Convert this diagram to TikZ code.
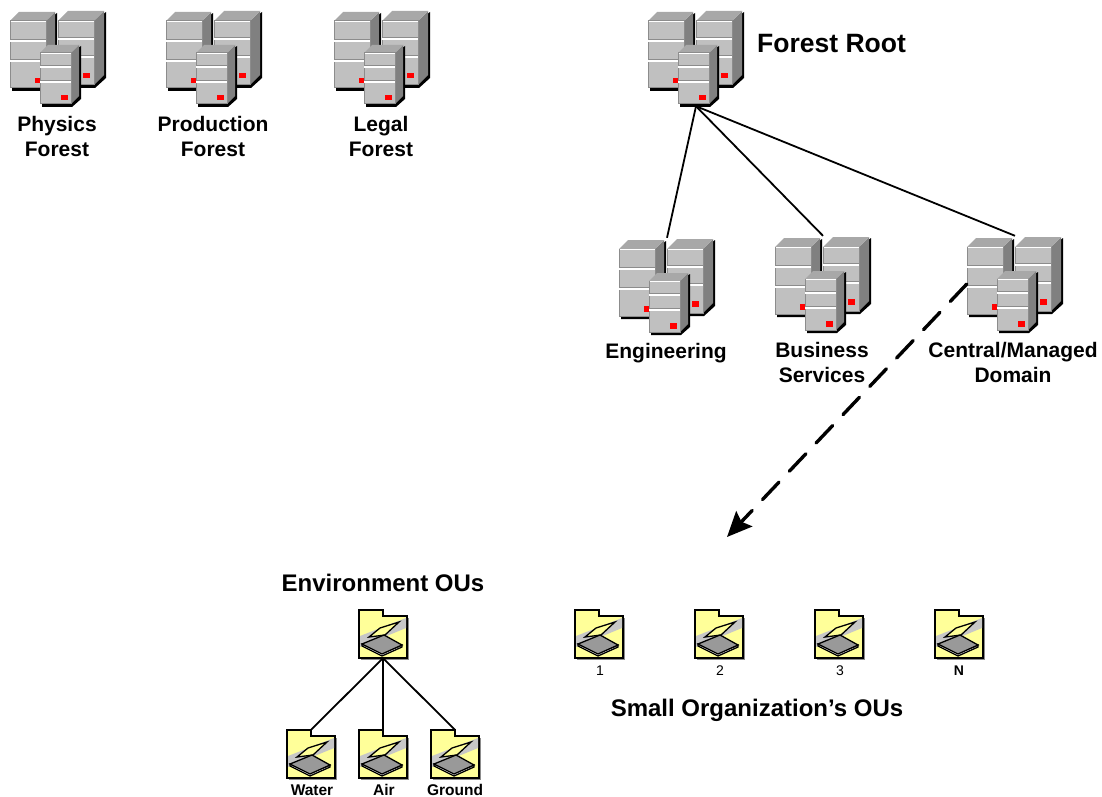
\documentclass[tikz,border=0pt]{standalone}
\usepackage{xcolor}
\usepackage{fontspec}
\setmainfont{Liberation Sans}
\usetikzlibrary{arrows.meta}

\definecolor{towerfront}{HTML}{C0C0C0}
\definecolor{towerside}{HTML}{808080}
\definecolor{towertop}{HTML}{A8A8A8}
\definecolor{towerline}{HTML}{8C8C8C}
\definecolor{folderfill}{HTML}{FFFF99}
\definecolor{scannerbase}{HTML}{999999}

\tikzset{
	groupbox/.style = {minimum width = 96pt, minimum height = 96pt, inner sep = 0},
	folderbox/.style = {minimum width = 48pt, minimum height = 48pt, inner sep = 0},
	biglabel/.style = {font = \bfseries\fontsize{24}{25}\selectfont, inner sep = 0},
	grouplabel/.style = {font = \bfseries\fontsize{21}{25}\selectfont, align = center, inner sep = 0},
	smalllabel/.style = {font = \bfseries\fontsize{15.5}{16}\selectfont, inner sep = 0},
	numberlabel/.style = {font = \fontsize{14}{15}\selectfont, inner sep = 0},
	trustline/.style = {black, line width = 1.8pt},
	movelink/.style = {black, line width = 3.4pt, line cap = round, dash pattern = on 24pt off 15pt, -{Stealth[length = 25pt, width = 22pt, inset = 4pt]}}
}

\newcommand{\servertower}[9]{
	\begin{scope}[shift = {(#1,#2)}]
		\fill[black] (2,#4) -- (2,#4+3) -- (#3+1,#4+3) -- (#3+#5+2,#4+3-#5) -- (#3+#5+2,1-#5) -- (#3,0) -- cycle;
		\fill[towerside] (#3,0) -- (#3+#5,-#5) -- (#3+#5,#4-#5) -- (#3,#4) -- cycle;
		\fill[towertop] (0,0) -- (#5,-#5) -- (#3+#5,-#5) -- (#3,0) -- cycle;
		\filldraw[fill = towerfront, draw = towerline, line width = 1pt] (0,0) rectangle (#3,#4);
		\draw[white, line width = 1.3pt] (0.5,0.6) -- (#3,0.6);
		\draw[towerline, line width = 1pt] (0,#6-1.2) -- (#3,#6-1.2);
		\draw[white, line width = 1.4pt] (0,#6) -- (#3,#6);
		\draw[towerline, line width = 1pt] (0,#7-1.2) -- (#3,#7-1.2);
		\draw[white, line width = 1.4pt] (0,#7) -- (#3,#7);
		\fill[red] (#8,#9) rectangle +(6.5,5.5);
	\end{scope}
}

\newcommand{\servergroup}[3]{
	\begin{scope}[shift = {(#2,#3)}]
		\servertower{0}{11}{36}{67}{9}{20}{40}{25}{57}
		\servertower{48}{11}{36}{64}{10}{18}{36}{25}{52}
		\servertower{30}{43}{31}{51}{8}{14}{29}{21}{42}
		\node[groupbox] (#1) at (48,48) {};
	\end{scope}
}

\newcommand{\folderou}[3]{
	\begin{scope}[shift = {(#2,#3)}]
		\fill[towerline] (2,8) -- (2,50) -- (50,50) -- (50,8) -- cycle;
		\filldraw[fill = folderfill, draw = black, line width = 1.6pt] (0,0) -- (24,0) -- (24,6) -- (48,6) -- (48,48) -- (0,48) -- cycle;
		\fill[black!22] (1,26) -- (47,8) -- (47,18) -- (1,37) -- cycle;
		\filldraw[fill = folderfill, draw = black, line width = 1.3pt] (10,27) -- (21,18) -- (40,12) -- (26,25) -- cycle;
		\filldraw[fill = white, draw = black, line width = 1.3pt] (3,36) -- (23,46) -- (43,37) -- (43,35) -- (23,43) -- (3,34) -- cycle;
		\filldraw[fill = scannerbase, draw = black, line width = 1.3pt] (3,34) -- (25,25) -- (43,35) -- (23,44) -- cycle;
		\node[folderbox] (#1) at (24,24) {};
	\end{scope}
}

\begin{document}
\begin{tikzpicture}[x = 1pt, y = -1pt]
	\useasboundingbox (0,0) rectangle (1102,797);

	\servergroup{physics}{10}{10}
	\servergroup{production}{166}{10}
	\servergroup{legal}{334}{10}
	\servergroup{root}{648}{10}
	\servergroup{engineering}{619}{238}
	\servergroup{business}{775}{236}
	\servergroup{central}{967}{236}

	\node[grouplabel] (physicslabel) at (57,136) {Physics\\Forest};
	\node[grouplabel] (productionlabel) at (213,136) {Production\\Forest};
	\node[grouplabel] (legallabel) at (381,136) {Legal\\Forest};
	\node[biglabel, font = \bfseries\fontsize{26.5}{27}\selectfont, anchor = west] (rootlabel) at (757,44) {Forest Root};
	\node[grouplabel] (engineeringlabel) at (666,353) {Engineering};
	\node[grouplabel] (businesslabel) at (822,362) {Business\\Services};
	\node[grouplabel] (centrallabel) at (1013,362) {Central/Managed\\Domain};

	\draw[trustline] (root.south) -- (engineering.north);
	\draw[trustline] (root.south) -- (business.north);
	\draw[trustline] (root.south) -- (central.north);

	\coordinate (movetarget) at (727,537);
	\draw[movelink] (central.west) -- (movetarget);

	\node[biglabel] (environmentlabel) at (383,583) {Environment OUs};
	\folderou{environment}{359}{610}
	\folderou{water}{287}{730}
	\folderou{air}{359}{730}
	\folderou{ground}{431}{730}
	\draw[trustline] (environment.south) -- (water.north);
	\draw[trustline] (environment.south) -- (air.north);
	\draw[trustline] (environment.south) -- (ground.north);
	\node[smalllabel] (waterlabel) at (312,790) {Water};
	\node[smalllabel] (airlabel) at (384,790) {Air};
	\node[smalllabel] (groundlabel) at (455,790) {Ground};

	\folderou{smallone}{575}{610}
	\folderou{smalltwo}{695}{610}
	\folderou{smallthree}{815}{610}
	\folderou{smalln}{935}{610}
	\node[numberlabel] (onelabel) at (600,671) {1};
	\node[numberlabel] (twolabel) at (720,671) {2};
	\node[numberlabel] (threelabel) at (840,671) {3};
	\node[numberlabel, font = \bfseries\fontsize{14}{15}\selectfont] (nlabel) at (959,671) {N};
	\node[biglabel] (smalllabeltext) at (757,710) {Small Organization’s OUs};
\end{tikzpicture}
\end{document}
